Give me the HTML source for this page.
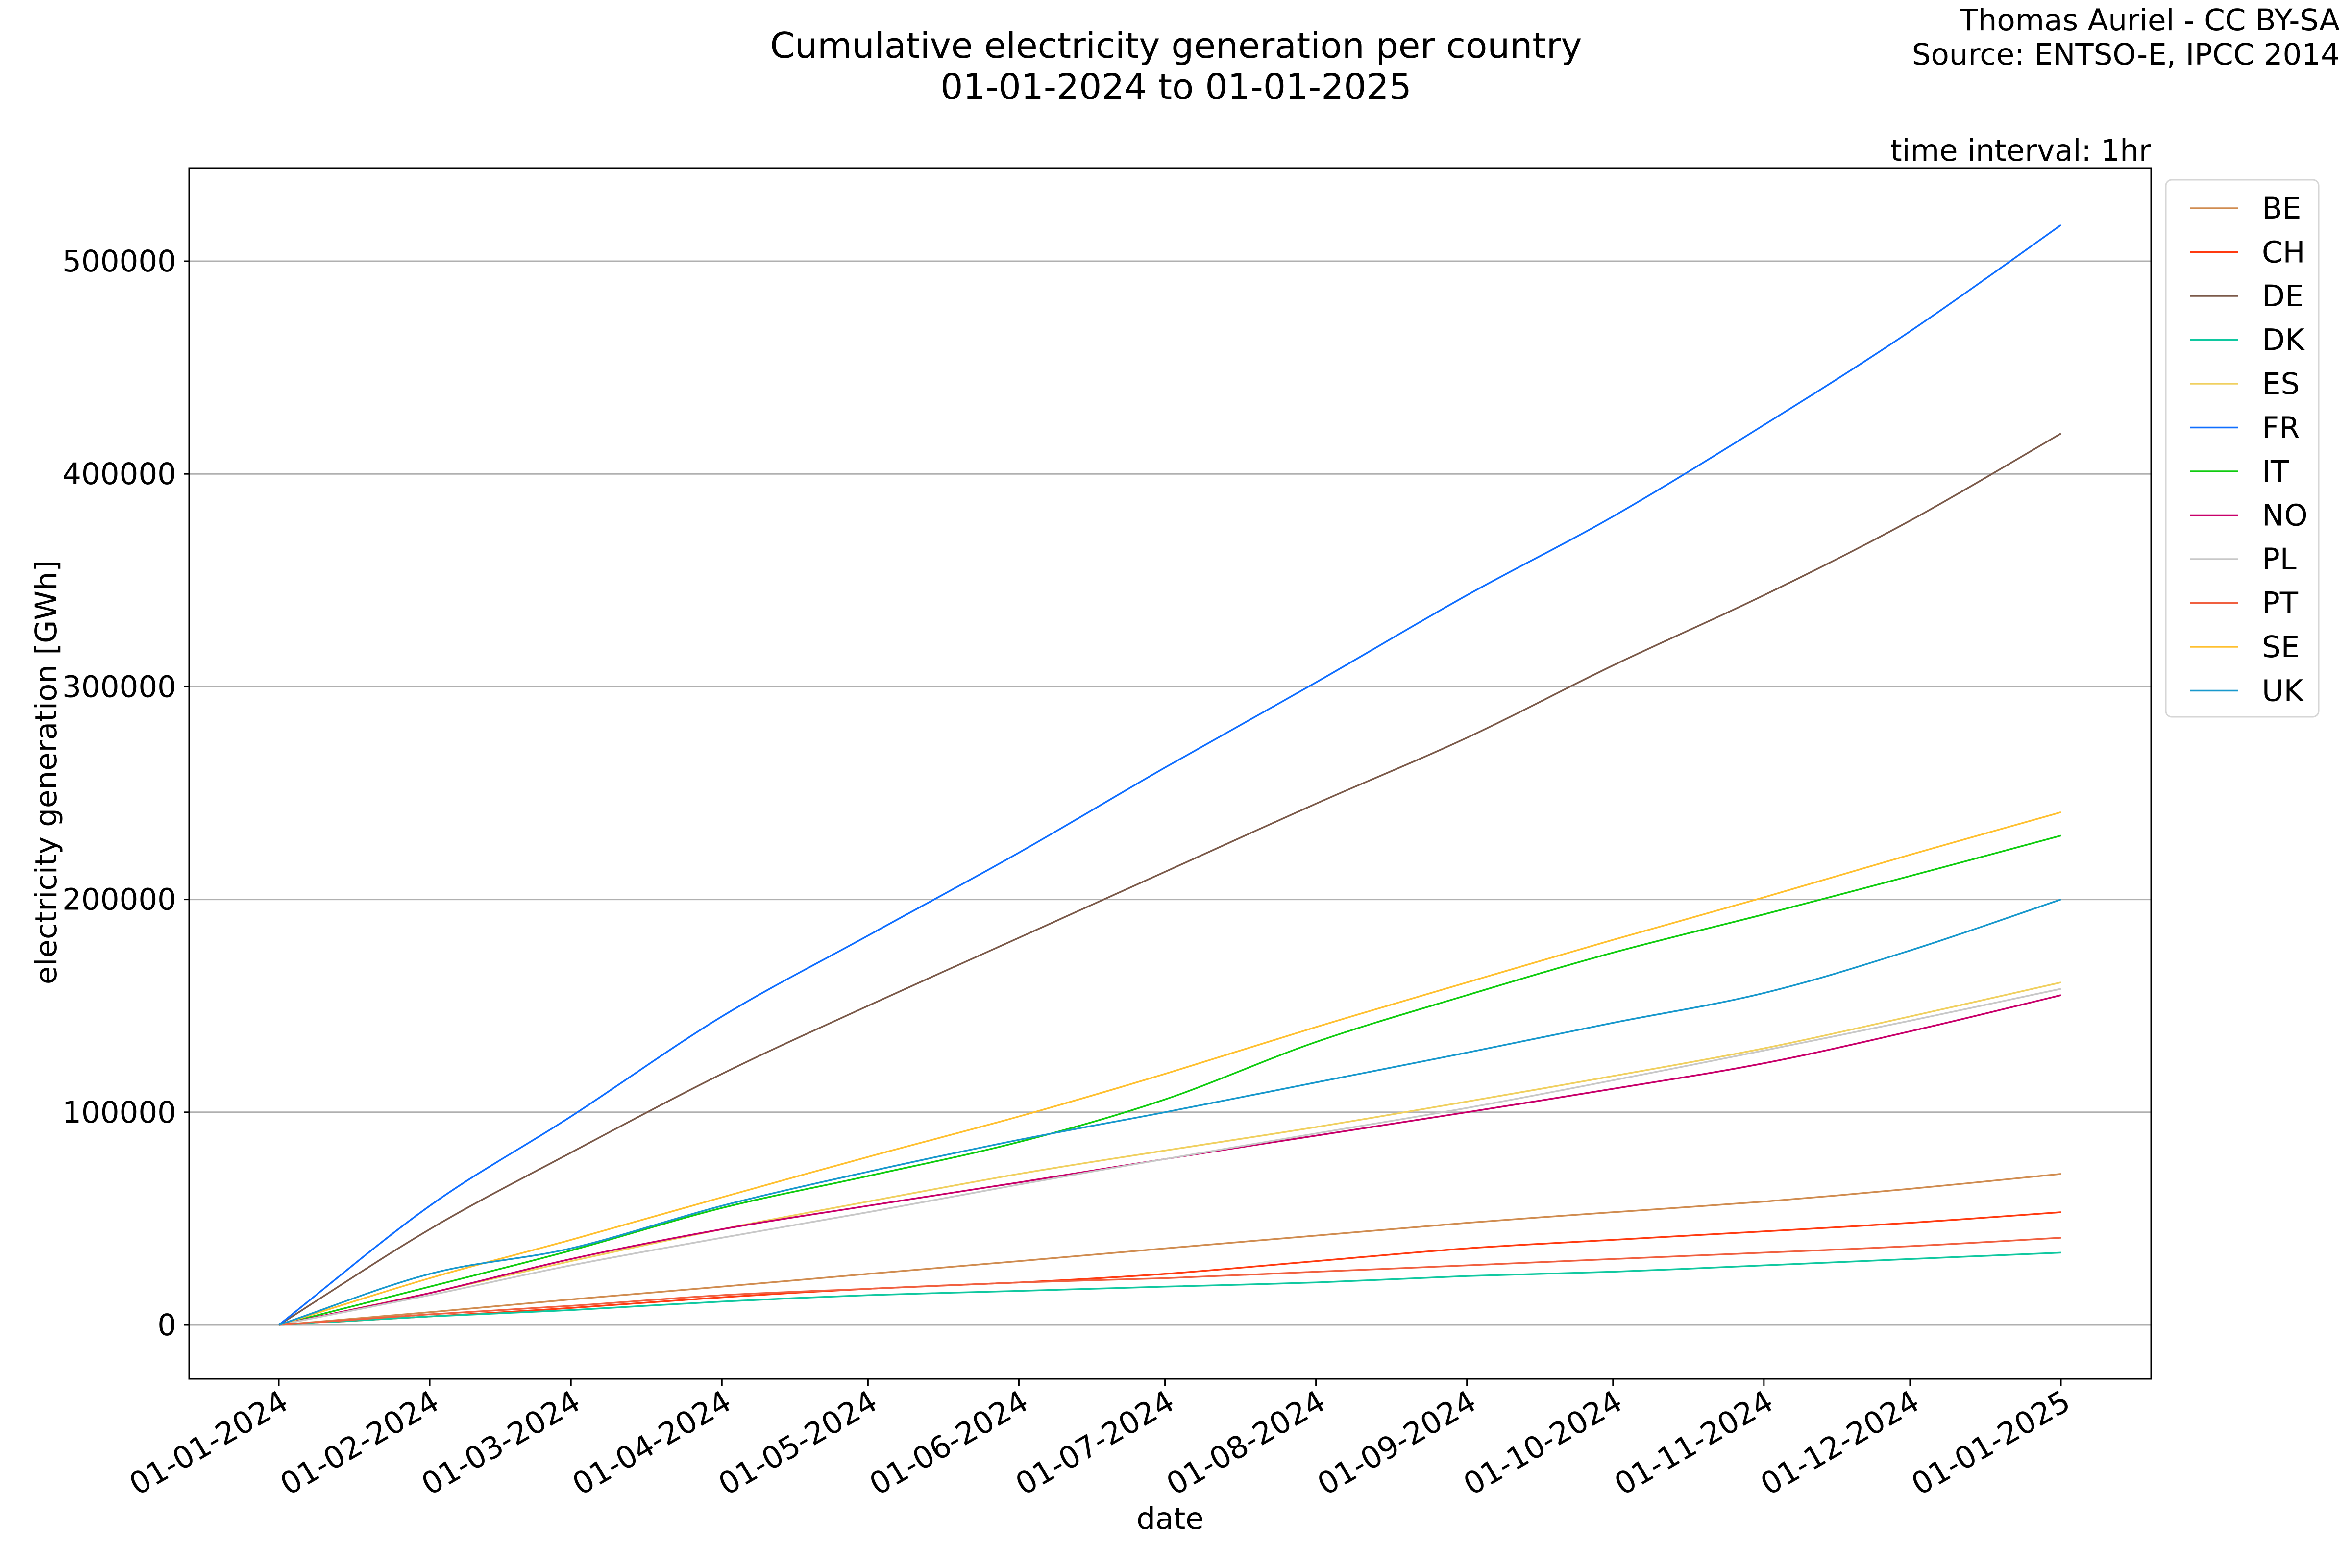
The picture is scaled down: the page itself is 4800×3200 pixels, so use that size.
<!DOCTYPE html>
<html><head><meta charset="utf-8"><style>
html,body{margin:0;padding:0;background:#fff}
svg{display:block}
text{font-family:"DejaVu Sans","Liberation Sans",sans-serif;fill:#000}
</style></head><body>
<svg id="s" width="4800" height="3200" xmlns="http://www.w3.org/2000/svg">
<rect width="4800" height="3200" fill="#fff"/>
<g id="grid"></g>
<g id="series"></g>
<rect x="386" y="343" width="4004" height="2471" fill="none" stroke="#000" stroke-width="3"/>
<g id="ticks"></g>
<text x="2400" y="118" font-size="72.5" text-anchor="middle">Cumulative electricity generation per country</text>
<text x="2400" y="202" font-size="72.5" text-anchor="middle">01-01-2024 to 01-01-2025</text>
<text x="4775" y="62" font-size="61" text-anchor="end">Thomas Auriel - CC BY-SA</text>
<text x="4775" y="132" font-size="61" text-anchor="end">Source: ENTSO-E, IPCC 2014</text>
<text x="4390" y="328" font-size="61" text-anchor="end">time interval: 1hr</text>
<text x="2388" y="3120" font-size="61" text-anchor="middle">date</text>
<text transform="translate(115,1576) rotate(-90)" font-size="61" text-anchor="middle">electricity generation [GWh]</text>
<rect x="4420" y="367" width="312" height="1096" rx="12" fill="#fff" stroke="#d6d6d6" stroke-width="3"/>
<g id="legend"></g>
</svg>
<script>
var ns="http://www.w3.org/2000/svg";
function el(p,t,a,txt){var e=document.createElementNS(ns,t);for(var k in a)e.setAttribute(k,a[k]);if(txt)e.textContent=txt;document.getElementById(p).appendChild(e);return e;}
var X0=569,PD=(4206-569)/366,Y0=2704,PY=(2704-533)/500000;
function X(d){return X0+d*PD}function Y(v){return Y0-v*PY}
var days=[0,31,60,91,121,152,182,213,244,274,305,335,366];
var labs=["01-01-2024","01-02-2024","01-03-2024","01-04-2024","01-05-2024","01-06-2024","01-07-2024","01-08-2024","01-09-2024","01-10-2024","01-11-2024","01-12-2024","01-01-2025"];
[0,100000,200000,300000,400000,500000].forEach(function(v){
 el("grid","line",{x1:386,x2:4390,y1:Y(v),y2:Y(v),stroke:"#b0b0b0","stroke-width":3});
 el("ticks","line",{x1:376,x2:386,y1:Y(v),y2:Y(v),stroke:"#000","stroke-width":3});
 el("ticks","text",{x:360,y:Y(v)+21,"font-size":61,"text-anchor":"end"},String(v));
});
days.forEach(function(d,i){
 var x=X(d);
 el("ticks","line",{x1:x,x2:x,y1:2814,y2:2828,stroke:"#000","stroke-width":3});
 el("ticks","text",{x:x,y:2832,dy:"0.76em","font-size":62,"text-anchor":"end",transform:"rotate(-30 "+x+" 2832)"},labs[i]);
});
var S=[
["BE","#d08c50",[0,6000,12000,18000,24000,30000,36000,42000,48000,53000,58000,64000,71000]],
["CH","#ff3a10",[0,4000,8000,13000,17000,20000,24000,30000,36000,40000,44000,48000,53000]],
["DE","#7b5a4a",[0,45000,81000,118000,150000,182000,213000,245000,276000,310000,343000,378000,419000]],
["DK","#10c8a0",[0,4000,7000,11000,14000,16000,18000,20000,23000,25000,28000,31000,34000]],
["ES","#f0d060",[0,15000,30000,45000,58000,71000,82000,93000,105000,117000,130000,145000,161000]],
["FR","#0f6eff",[0,56000,98000,145000,183000,222000,262000,302000,343000,380000,423000,467000,517000]],
["IT","#10cc10",[0,18000,35000,55000,70000,86000,106000,133000,155000,175000,193000,211000,230000]],
["NO","#c8006a",[0,15000,31000,45000,56000,67000,78000,89000,100000,111000,123000,138000,155000]],
["PL","#c8c8c8",[0,14000,28000,41000,53000,66000,78000,90000,102000,115000,129000,143000,158000]],
["PT","#f06040",[0,5000,9000,14000,17000,20000,22000,25000,28000,31000,34000,37000,41000]],
["SE","#ffc030",[0,22000,40000,60000,79000,98000,118000,140000,161000,181000,201000,221000,241000]],
["UK","#1898cc",[0,24000,36000,56000,72000,87000,100000,114000,128000,142000,156000,176000,200000]]
];
S.forEach(function(s,i){
 var v=s[2],n=v.length,d="";
 var px=days.map(X),py=v.map(Y);
 d="M"+px[0].toFixed(1)+","+py[0].toFixed(1);
 for(var k=0;k<n-1;k++){
  var p0=Math.max(k-1,0),p3=Math.min(k+2,n-1);
  var c1x=px[k]+(px[k+1]-px[p0])/6,c1y=py[k]+(py[k+1]-py[p0])/6;
  var c2x=px[k+1]-(px[p3]-px[k])/6,c2y=py[k+1]-(py[p3]-py[k])/6;
  if(k==0){c1x=px[0]+(px[1]-px[0])/3;c1y=py[0]+(py[1]-py[0])/3;}
  d+=" C"+c1x.toFixed(1)+","+c1y.toFixed(1)+" "+c2x.toFixed(1)+","+c2y.toFixed(1)+" "+px[k+1].toFixed(1)+","+py[k+1].toFixed(1);
 }
 el("series","path",{d:d,fill:"none",stroke:s[1],"stroke-width":3.5,"stroke-linejoin":"round"});
 var ly=425+i*89.5;
 el("legend","line",{x1:4469,x2:4567,y1:ly,y2:ly,stroke:s[1],"stroke-width":3.5});
 el("legend","text",{x:4616,y:ly+21,"font-size":61},s[0]);
});
</script>
</body></html>
